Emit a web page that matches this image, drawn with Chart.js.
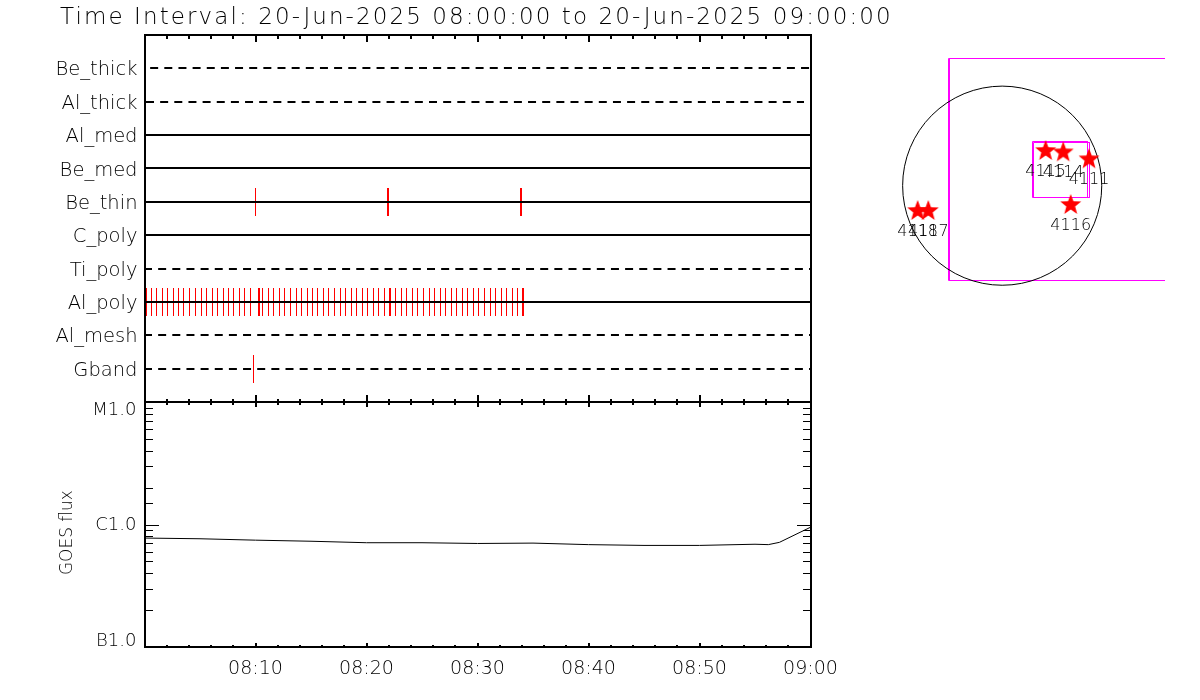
<!DOCTYPE html>
<html>
<head>
<meta charset="utf-8">
<title>Time Interval</title>
<script src="https://cdn.jsdelivr.net/npm/chart.js@4"></script>
<style>
  html, body { margin: 0; padding: 0; background: #fff; }
  #page { position: relative; width: 1200px; height: 700px; overflow: hidden; }
  canvas { position: absolute; }
</style>
</head>
<body>
<div id="page">
  <canvas id="channels-chart" style="left:0;top:0" width="900" height="412"></canvas>
  <canvas id="goes-chart" style="left:0;top:392px" width="900" height="308"></canvas>
  <canvas id="map-chart" style="left:880px;top:40px" width="285" height="260"></canvas>
</div>
<script>
const titleText = "Time Interval: 20-Jun-2025 08:00:00 to 20-Jun-2025 09:00:00";
const textFont = "'DejaVu Sans ExtraLight', 'DejaVu Sans'";

// Channels, top to bottom. Dashed ones have no data in the interval
const channels = ["Be_thick", "Al_thick", "Al_med", "Be_med", "Be_thin", "C_poly", "Ti_poly", "Al_poly", "Al_mesh", "Gband"];
const dashedChannels = ["Be_thick", "Al_thick", "Ti_poly", "Al_mesh", "Gband"];
const channelStart = [-0.75, 0.2, 0, 0, 0, 0, 0, 0, 0, 0];
const channelEnd = [60, 59.5, 60, 60, 60, 60, 60, 60, 60, 60];

// Exposure times in minutes after 08:00
const beThinTimes = [10.0, 21.93, 22.02, 33.83, 33.92];
const gbandTimes = [9.82];
const alPolyTimes = [
  0.15, 0.6, 1.08, 1.59, 2.1, 2.59, 3.09, 3.54, 4.08, 4.59, 5.11, 5.59, 6.1, 6.6, 7.09, 7.59, 8.05, 8.56, 9.04, 9.55,
  10.24, 10.35, 10.66, 11.14, 11.65, 12.16, 12.64, 13.15, 13.67, 14.14, 14.66, 15.11, 15.61, 16.1, 16.6, 17.14, 17.66,
  18.14, 18.65, 19.13, 19.67, 20.12, 20.63, 21.11, 21.65, 22.11, 22.2, 22.64, 23.15, 23.63, 24.17, 24.62, 25.16, 25.68,
  26.13, 26.67, 27.14, 27.66, 28.14, 28.65, 29.13, 29.67, 30.12, 30.63, 31.17, 31.65, 32.16, 32.64, 33.15, 33.63, 34.09, 34.18
];

// GOES flux curve
const goesTimes = [0, 5, 10, 15, 20, 25, 30, 35, 40, 45, 50, 55, 56.2, 57.2, 60];
const goesFlux = [7.75e-7, 7.65e-7, 7.45e-7, 7.3e-7, 7.1e-7, 7.1e-7, 7.0e-7, 7.05e-7, 6.85e-7, 6.75e-7, 6.75e-7, 6.9e-7, 6.85e-7, 7.15e-7, 9.5e-7];
const goesClasses = [1e-7, 1e-6, 1e-5];
const goesClassLabels = [["B1.0", ""], ["C1.0"], ["", "M1.0"]];

const timeTicks = [2, 4, 6, 8, 10, 12, 14, 16, 18, 20, 22, 24, 26, 28, 30, 32, 34, 36, 38, 40, 42, 44, 46, 48, 50, 52, 54, 56, 58];
const timeLabels = ["", "08:10", "08:20", "08:30", "08:40", "08:50", "09:00"];

// Solar map, arcsec from disk centre
const limbRadius = 946;
const regionNames = ["4115", "4114", "4111", "4116", "4118", "4117"];
const regionX = [413, 580, 825, 651, -803, -702];
const regionY = [330, 317, 251, -183, -240, -240];
const fovLeft = [-508, -499, 286, 295];
const fovRight = [2000, 2000, 815, 827];
const fovTop = [1210, 1210, 418, 414];
const fovBottom = [-896, -896, -110, -113];

// Labels of the outer ticks must not shrink the plot area
function fixScaleBox(scale, width, height) {
  if (width) scale.width = width;
  if (height) scale.height = height;
  scale.paddingLeft = scale.paddingRight = scale.paddingTop = scale.paddingBottom = 0;
}

// Black frame and inward ticks, placed with the chart's own scales
const framePlugin = {
  id: "frame",
  afterDraw(chart, args, opts) {
    const ctx = chart.ctx;
    const { left, right, top, bottom } = chart.chartArea;
    const l = Math.round(left), r = Math.round(right), t = Math.round(top), b = Math.round(bottom);
    ctx.save();
    ctx.strokeStyle = "#000";
    ctx.lineWidth = 2;
    ctx.lineCap = "square";
    ctx.strokeRect(l, t, r - l, b - t);
    ctx.lineCap = "butt";
    timeTicks.forEach((m) => {
      const px = Math.round(chart.scales.x.getPixelForValue(m));
      const major = m % 10 === 0 ? 1 : 0;
      ctx.beginPath();
      ctx.moveTo(px, t);
      ctx.lineTo(px, t + opts.topTicks[major]);
      ctx.moveTo(px, b);
      ctx.lineTo(px, b - opts.bottomTicks[major]);
      ctx.stroke();
    });
    if (opts.logTicks) {
      ctx.lineWidth = 1;
      chart.scales.y.ticks.forEach((tick) => {
        const py = Math.round(chart.scales.y.getPixelForValue(tick.value)) + 0.5;
        const len = goesClasses.some((c) => Math.abs(Math.log10(c / tick.value)) < 0.01) ? 14 : 8;
        ctx.beginPath();
        ctx.moveTo(l, py);
        ctx.lineTo(l + len, py);
        ctx.moveTo(r, py);
        ctx.lineTo(r - len, py);
        ctx.stroke();
      });
    }
    ctx.restore();
  },
};

// The reference is not antialiased, so put points on whole pixels
const snapPlugin = {
  id: "snap",
  afterDatasetsUpdate(chart) {
    chart.data.datasets.forEach((ds, i) => {
      if (!ds.snap) return;
      chart.getDatasetMeta(i).data.forEach((el) => {
        el.x = Math.floor(el.x) + ds.snap[0];
        el.y = Math.round(el.y - ds.snap[1]) + ds.snap[1];
      });
    });
  },
};

// Title starts at x=60, runs past the plot and is spaced wider than the other text
const titlePlugin = {
  id: "titleSpacing",
  afterLayout(chart) {
    const block = chart.titleBlock;
    block.left = 60;
    block.right = 900;
    if (block.spaced) return;
    const draw = block.draw;
    block.draw = function () {
      chart.ctx.letterSpacing = "2.1px";
      draw.call(block);
      chart.ctx.letterSpacing = "0px";
    };
    block.spaced = true;
  },
};

// Region numbers under the stars
const regionLabelPlugin = {
  id: "regionLabels",
  afterDatasetsDraw(chart) {
    const ctx = chart.ctx;
    ctx.save();
    ctx.font = "300 16px " + textFont;
    ctx.fillStyle = "#000";
    ctx.textAlign = "center";
    ctx.textBaseline = "middle";
    chart.getDatasetMeta(0).data.forEach((el, i) => {
      ctx.fillText(regionNames[i], el.x, el.y + 20.5);
    });
    ctx.restore();
  },
};

function eventDataset(times, channel) {
  return {
    type: "scatter",
    data: times.map((t) => ({ x: t, y: channels.indexOf(channel) + 1 })),
    pointStyle: "line",
    rotation: 90,
    pointRadius: 14,
    pointBorderColor: "#ff0000",
    pointBorderWidth: 1,
    snap: [0.5, 0],
  };
}

// Filled five point star for the region markers
function makeStar(outer) {
  const c = document.createElement("canvas");
  c.width = c.height = outer * 2 + 2;
  const g = c.getContext("2d");
  g.fillStyle = "#ff0000";
  g.beginPath();
  for (let i = 0; i < 10; i++) {
    const r = i % 2 ? outer * 0.42 : outer;
    const a = -Math.PI / 2 + (i * Math.PI) / 5;
    g.lineTo(outer + 1 + r * Math.cos(a), outer + 1 + r * Math.sin(a));
  }
  g.closePath();
  g.fill();
  return c;
}

// Channel panel
new Chart(document.getElementById("channels-chart"), {
  type: "line",
  plugins: [framePlugin, snapPlugin, titlePlugin],
  data: {
    datasets: channels
      .map((name, i) => ({
        label: name,
        data: [
          { x: channelStart[i], y: i + 1 },
          { x: channelEnd[i], y: i + 1 },
        ],
        borderColor: "#000",
        borderWidth: 2,
        borderDash: dashedChannels.includes(name) ? [8, 6.15] : [],
        pointRadius: 0,
        snap: [0, 0],
      }))
      .concat([
        eventDataset(beThinTimes, "Be_thin"),
        eventDataset(alPolyTimes, "Al_poly"),
        eventDataset(gbandTimes, "Gband"),
      ]),
  },
  options: {
    responsive: false,
    animation: false,
    events: [],
    layout: { autoPadding: false, padding: { left: 0, right: 89.5, top: 0, bottom: 10 } },
    plugins: {
      legend: { display: false },
      tooltip: { enabled: false },
      title: {
        display: true,
        text: titleText,
        align: "start",
        color: "#000",
        font: { family: textFont, size: 23, weight: "300", lineHeight: 1 },
        padding: { top: 7, bottom: 5 },
      },
      frame: { topTicks: [4, 7], bottomTicks: [3, 7] },
    },
    scales: {
      x: { type: "linear", min: 0, max: 60, display: false },
      y: {
        type: "linear",
        min: 0,
        max: 11,
        reverse: true,
        afterFit: (s) => fixScaleBox(s, 144.5),
        grid: { display: false, drawTicks: false },
        border: { display: false },
        ticks: {
          stepSize: 1,
          autoSkip: false,
          padding: 7,
          labelOffset: 2,
          color: "#000",
          font: { family: textFont, size: 19.5, weight: "300" },
          callback: (v) => channels[v - 1] || "",
        },
      },
    },
  },
});

// GOES panel
new Chart(document.getElementById("goes-chart"), {
  type: "line",
  plugins: [framePlugin],
  data: {
    labels: goesTimes,
    datasets: [
      {
        label: "GOES flux",
        data: goesTimes.map((t, i) => ({ x: t, y: goesFlux[i] })),
        borderColor: "#000",
        borderWidth: 1,
        pointRadius: 0,
      },
    ],
  },
  options: {
    responsive: false,
    animation: false,
    events: [],
    layout: { autoPadding: false, padding: { left: 0, right: 89.5, top: 10, bottom: 0 } },
    plugins: {
      legend: { display: false },
      tooltip: { enabled: false },
      frame: { topTicks: [3, 5], bottomTicks: [2, 4], logTicks: true },
    },
    scales: {
      x: {
        type: "linear",
        min: 0,
        max: 60,
        afterFit: (s) => fixScaleBox(s, 0, 53),
        grid: { display: false, drawTicks: false },
        border: { display: false },
        ticks: {
          stepSize: 10,
          maxRotation: 0,
          padding: 11,
          color: "#000",
          font: { family: textFont, size: 19, weight: "300" },
          callback: (v) => timeLabels[v / 10],
        },
      },
      y: {
        type: "logarithmic",
        min: 1e-7,
        max: 1e-5,
        afterFit: (s) => fixScaleBox(s, 144.5),
        grid: { display: false, drawTicks: false },
        border: { display: false },
        title: {
          display: true,
          text: "GOES flux   ",
          color: "#000",
          font: { family: textFont, size: 17, weight: "300" },
          padding: { top: 57, bottom: 0 },
        },
        ticks: {
          autoSkip: false,
          padding: 8,
          labelOffset: 1,
          color: "#000",
          font: { family: textFont, size: 18, weight: "300", lineHeight: 0.78 },
          callback: (v) => {
            const i = goesClasses.findIndex((c) => Math.abs(Math.log10(c / v)) < 0.01);
            return i >= 0 ? goesClassLabels[i] : "";
          },
        },
      },
    },
  },
});

// Solar map
new Chart(document.getElementById("map-chart"), {
  type: "scatter",
  plugins: [regionLabelPlugin, snapPlugin],
  data: {
    datasets: [
      {
        label: "Regions",
        data: regionX.map((x, i) => ({ x: x, y: regionY[i] })),
        pointStyle: makeStar(11),
      },
      {
        label: "Limb",
        data: [{ x: 0, y: 0 }],
        pointRadius: (ctx) => {
          const xs = ctx.chart.scales.x;
          return xs.getPixelForValue(limbRadius) - xs.getPixelForValue(0);
        },
        pointBackgroundColor: "rgba(0,0,0,0)",
        pointBorderColor: "#000",
        pointBorderWidth: 1,
      },
    ].concat(
      fovLeft.map((l, i) => ({
        label: "FOV " + (i + 1),
        showLine: true,
        data: [
          { x: l, y: fovTop[i] },
          { x: fovRight[i], y: fovTop[i] },
          { x: fovRight[i], y: fovBottom[i] },
          { x: l, y: fovBottom[i] },
          { x: l, y: fovTop[i] },
        ],
        borderColor: "#ff00ff",
        borderWidth: 1,
        pointRadius: 0,
        snap: [0.5, 0.5],
      }))
    ),
  },
  options: {
    responsive: false,
    animation: false,
    events: [],
    layout: { autoPadding: false, padding: 0 },
    plugins: {
      legend: { display: false },
      tooltip: { enabled: false },
    },
    scales: {
      x: { type: "linear", min: -1161, max: 1547, display: false },
      y: { type: "linear", min: -1086, max: 1384, display: false },
    },
  },
});
</script>
</body>
</html>
